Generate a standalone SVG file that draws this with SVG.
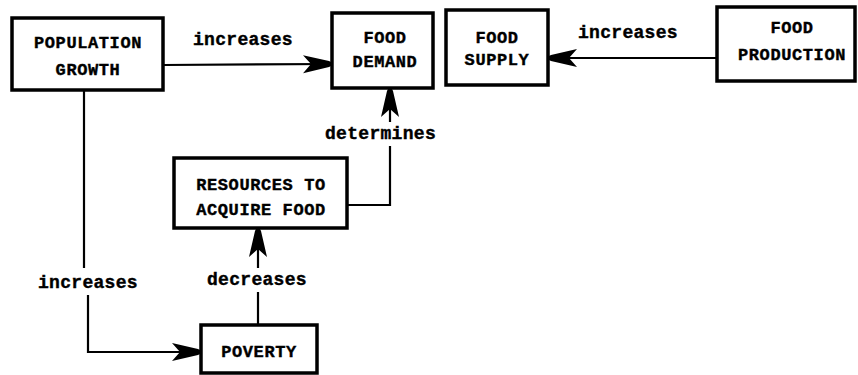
<svg xmlns="http://www.w3.org/2000/svg" width="858" height="375" viewBox="0 0 858 375">
<style>
.box{fill:#fff;stroke:#000;stroke-width:3.5}
.t{font-family:"Liberation Mono","DejaVu Sans Mono",monospace;font-weight:bold;font-size:17px;letter-spacing:0.6px;fill:#000;stroke:#000;stroke-width:0.4;text-anchor:middle}
.l{font-family:"Liberation Mono","DejaVu Sans Mono",monospace;font-weight:bold;font-size:18px;letter-spacing:0.3px;fill:#000;stroke:#000;stroke-width:0.4}
.c{fill:none;stroke:#000;stroke-width:2.2}
</style>
<defs>
<marker id="ah" viewBox="0 0 28 20" refX="28" refY="10" markerWidth="28" markerHeight="20" markerUnits="userSpaceOnUse" orient="auto">
<path d="M0,1 L26,7 L28,8 L28,12 L26,13 L0,19 L8,10 Z" fill="#000"/>
</marker>
</defs>
<rect width="858" height="375" fill="#fff"/>
<g id="connectors">
<path class="c" d="M163,65 L331,64" marker-end="url(#ah)"/>
<path class="c" d="M717,58 L549,58" marker-end="url(#ah)"/>
<path class="c" d="M347,205 L390,205 L390,146"/>
<path class="c" d="M390,122 L390,89" marker-end="url(#ah)"/>
<path class="c" d="M84,90 L84,268"/>
<path class="c" d="M88,295 L88,352 L200,352" marker-end="url(#ah)"/>
<path class="c" d="M258,325 L258,292"/>
<path class="c" d="M258,268 L258,229" marker-end="url(#ah)"/>
<text class="l" x="193" y="45">increases</text>
<text class="l" x="578" y="38">increases</text>
<text class="l" x="325" y="139">determines</text>
<text class="l" x="38" y="288">increases</text>
<text class="l" x="207" y="285">decreases</text>
</g>
<g id="population-growth">
<rect class="box" x="12" y="18" width="151" height="72"/>
<text class="t" x="88" y="48">POPULATION</text>
<text class="t" x="88" y="75">GROWTH</text>
</g>
<g id="food-demand">
<rect class="box" x="332" y="13" width="101" height="75"/>
<text class="t" x="385" y="43">FOOD</text>
<text class="t" x="385" y="67">DEMAND</text>
</g>
<g id="food-supply">
<rect class="box" x="446" y="10" width="102" height="75"/>
<text class="t" x="497" y="43">FOOD</text>
<text class="t" x="497" y="65">SUPPLY</text>
</g>
<g id="food-production">
<rect class="box" x="717" y="7" width="138" height="74"/>
<text class="t" x="792" y="33">FOOD</text>
<text class="t" x="792" y="60">PRODUCTION</text>
</g>
<g id="resources">
<rect class="box" x="174" y="158" width="173" height="70"/>
<text class="t" x="261" y="190">RESOURCES TO</text>
<text class="t" x="261" y="215">ACQUIRE FOOD</text>
</g>
<g id="poverty">
<rect class="box" x="201" y="325" width="116" height="48"/>
<text class="t" x="259" y="357">POVERTY</text>
</g>
</svg>
